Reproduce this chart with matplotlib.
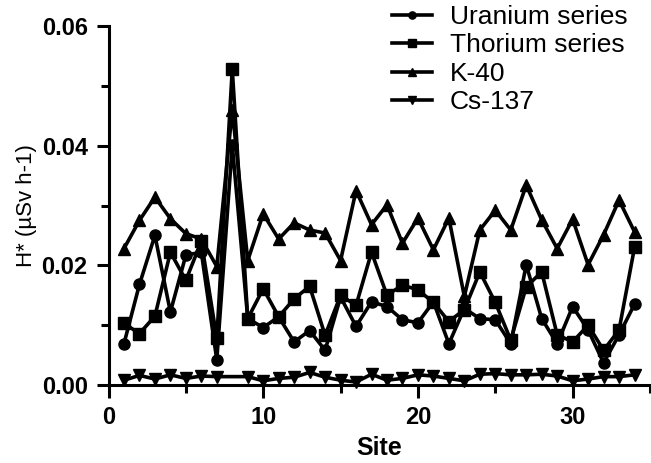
import numpy as np
import matplotlib
matplotlib.use('Agg')
import matplotlib.pyplot as plt
from matplotlib.ticker import MultipleLocator

plt.rcParams['font.family'] = ['Liberation Sans', 'DejaVu Sans']

# %% data
sites = np.arange(1, 35)
uranium = [0.0069, 0.0168, 0.0250, 0.0122, 0.0217, 0.0222, 0.0042, 0.0401, 0.0111, 0.0096,
           0.0114, 0.0072, 0.0091, 0.0058, 0.0147, 0.0098, 0.0139, 0.0131, 0.0109, 0.0104,
           0.0139, 0.0069, 0.0128, 0.0111, 0.0109, 0.0069, 0.0201, 0.0111, 0.0069, 0.0131,
           0.0092, 0.0037, 0.0084, 0.0135]
thorium = [0.0103, 0.0086, 0.0115, 0.0222, 0.0175, 0.0240, 0.0078, 0.0528, 0.0111, 0.0161,
           0.0114, 0.0144, 0.0165, 0.0083, 0.0150, 0.0133, 0.0222, 0.0150, 0.0167, 0.0159,
           0.0138, 0.0106, 0.0126, 0.0189, 0.0138, 0.0075, 0.0164, 0.0189, 0.0084, 0.0072,
           0.0100, 0.0058, 0.0092, 0.0230]
k40 = [0.0228, 0.0275, 0.0314, 0.0278, 0.0253, 0.0244, 0.0198, 0.0460, 0.0208, 0.0286,
       0.0244, 0.0271, 0.0259, 0.0254, 0.0208, 0.0325, 0.0268, 0.0301, 0.0237, 0.0279,
       0.0226, 0.0279, 0.0148, 0.0259, 0.0292, 0.0259, 0.0334, 0.0276, 0.0228, 0.0277,
       0.0201, 0.0251, 0.0309, 0.0256]
cs137 = [0.0008, 0.0016, 0.0010, 0.0017, 0.0011, 0.0015, 0.0014, np.nan, 0.0014, 0.0007,
         0.0011, 0.0013, 0.0021, 0.0013, 0.0008, 0.0005, 0.0018, 0.0008, 0.0011, 0.0017,
         0.0015, 0.0011, 0.0007, 0.0018, 0.0019, 0.0017, 0.0017, 0.0018, 0.0015, 0.0007,
         0.0010, 0.0014, 0.0014, 0.0017]

# %% plot
fig = plt.figure(figsize=(6.51, 4.63), dpi=100)
ax = fig.add_axes([108.5/651, 1-385/463, (650-108.5)/651, (385-26)/463])

style = dict(color='black', lw=2.6, ms=8, clip_on=False)
ax.plot(sites, uranium, marker='o', label='Uranium series', **style)
ax.plot(sites, thorium, marker='s', label='Thorium series', **style)
ax.plot(sites, k40, marker='^', label='K-40', **style)
cs = np.array(cs137)
ok = ~np.isnan(cs)  # site 8 missing, line joins across it
ax.plot(sites[ok], cs[ok], marker='v', label='Cs-137', **style)

ax.set_xlim(0, 35)
ax.set_ylim(0, 0.06)
ax.xaxis.set_major_locator(MultipleLocator(10))
ax.xaxis.set_minor_locator(MultipleLocator(5))
ax.yaxis.set_major_locator(MultipleLocator(0.02))
ax.yaxis.set_minor_locator(MultipleLocator(0.01))
ax.yaxis.set_major_formatter(matplotlib.ticker.FormatStrFormatter('%.2f'))
for s in ['top', 'right']:
    ax.spines[s].set_visible(False)
for s in ['left', 'bottom']:
    ax.spines[s].set_linewidth(2.2)
ax.tick_params(which='major', length=9, width=2.2, labelsize=17, pad=6)
ax.tick_params(which='minor', length=6, width=2.2)
for lab in ax.get_xticklabels() + ax.get_yticklabels():
    lab.set_fontweight('bold')

ax.set_xlabel('Site', fontsize=18, fontweight='bold', labelpad=5)
ax.set_ylabel('H* (\u00b5Sv h-1)', fontsize=16, labelpad=3)

ax.legend(loc='upper left', bbox_to_anchor=(392/651, 1-5/463), bbox_transform=fig.transFigure,
          frameon=False, fontsize=19, handlelength=1.5, handletextpad=0.7,
          labelspacing=0.17, borderpad=0, borderaxespad=0, markerscale=0.65)

fig.savefig('out.png', dpi=100)
